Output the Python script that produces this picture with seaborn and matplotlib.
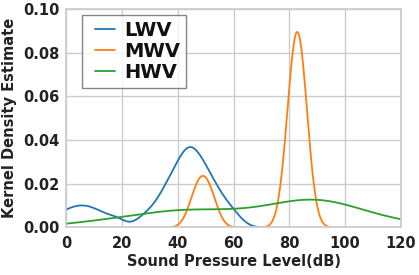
import numpy as np
import matplotlib
matplotlib.use("Agg")
import matplotlib.pyplot as plt
from matplotlib.legend_handler import HandlerLine2D
import seaborn as sns

# -----------------------------------
# Data (sound pressure samples, dB)
# -----------------------------------

lwv = [-6.6, -1, 2.6, 5.6, 8.6, 12.2, 17.8,
       27.9, 32.2, 34.5, 36.2, 37.6, 38.8, 39.9, 41, 41.9, 42.9, 43.8, 44.2,
       44.7, 45.6, 46.5, 47.5, 48.4, 49.5, 50.6, 51.7, 53.1, 54.9, 57.2, 60.5]

mwv = [45.5, 47.5, 49, 50.5, 52.5,
       79.5, 79.5, 80.5, 81, 81.5, 82, 82.5, 82.5, 83, 83, 83.5, 83.5,
       84, 84.5, 85, 85.5, 86.5]

hwv = [8, 18, 28, 35, 38, 40, 45, 50, 55, 60, 66, 72, 77,
       81, 85, 87, 88, 89, 90, 92, 95, 98, 103, 110, 120]

labels = ["LWV", "MWV", "HWV"]
bandwidths = [3.4, 2.8, 14.0]   # kernel width in dB
colors = ["#1f77b4", "#ff7f0e", "#2ca02c"]

x_ticks = [0, 20, 40, 60, 80, 100, 120]
y_ticks = [0.00, 0.02, 0.04, 0.06, 0.08, 0.10]

# -----------------------------------
# Plot
# -----------------------------------

sns.set_theme(style="whitegrid")
plt.rcParams['font.family'] = ['DejaVu Sans']

fig, ax = plt.subplots(figsize=(4.19, 2.75), dpi=100)
fig.subplots_adjust(left=0.158, right=0.957, bottom=0.173, top=0.967)

for name, vals, bw, c in zip(labels, [lwv, mwv, hwv], bandwidths, colors):
    vals = np.array(vals, dtype=float)
    sns.kdeplot(x=vals, bw_method=bw / np.std(vals, ddof=1),
                label=name, color=c, linewidth=1.3, ax=ax)

ax.set_xlim(0, 120)
ax.set_ylim(0, 0.10)
ax.set_xticks(x_ticks)
ax.set_yticks(y_ticks)
ax.set_yticklabels([f"{v:.2f}" for v in y_ticks])

ax.tick_params(axis='both', labelsize=10.5, length=0, colors='#222222')
ax.tick_params(axis='y', pad=5)
ax.tick_params(axis='x', pad=6)
for lab in ax.get_xticklabels() + ax.get_yticklabels():
    lab.set_fontweight('bold')

ax.set_xlabel("Sound Pressure Level(dB)", fontsize=10.5, fontweight='bold',
              labelpad=2, color='#222222')
ax.set_ylabel("Kernel Density Estimate", fontsize=10.5, fontweight='bold',
              labelpad=4, color='#222222')

leg = ax.legend(loc='upper left', bbox_to_anchor=(0.0457, 0.6, 0.313, 0.373),
                mode='expand', borderaxespad=0, fancybox=False,
                handlelength=1.4, handletextpad=0.48,
                borderpad=0.3, labelspacing=0.1,
                handler_map={plt.Line2D: HandlerLine2D(xpad=0.37)},
                prop={'weight': 'bold', 'size': 14})
leg.get_frame().set_edgecolor('#666666')
leg.get_frame().set_linewidth(1.0)
for t in leg.get_texts():
    t.set_color('#111111')

plt.savefig("out.png", dpi=100)
plt.close()
